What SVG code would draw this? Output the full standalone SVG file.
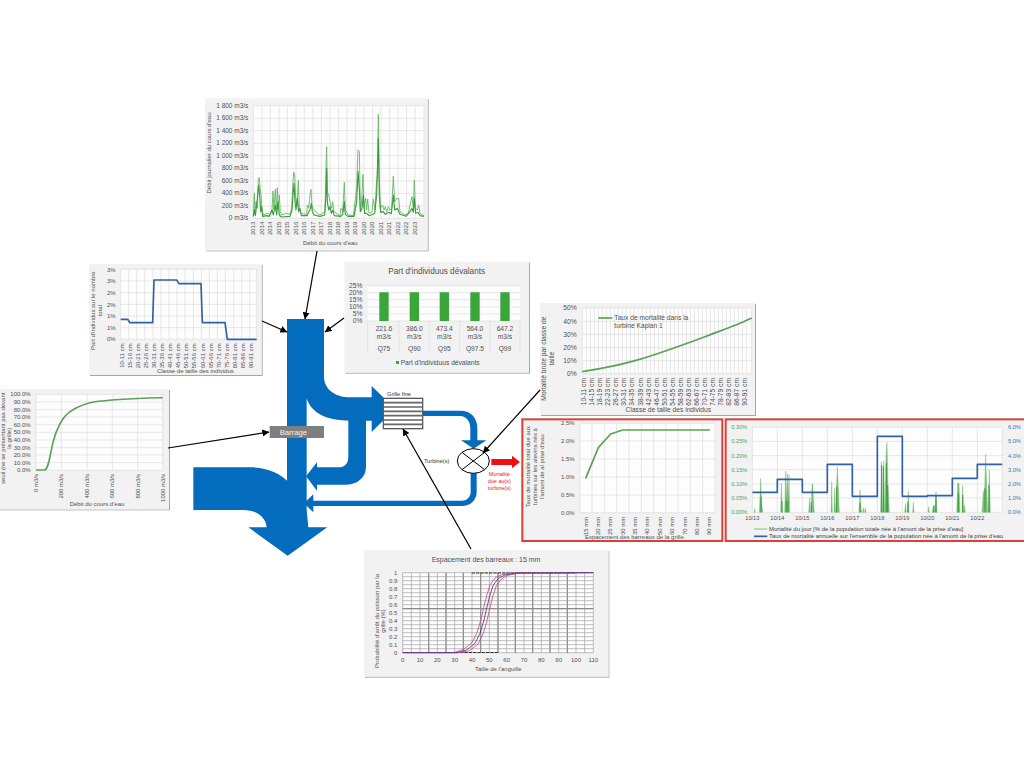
<svg xmlns="http://www.w3.org/2000/svg" width="1024" height="768" viewBox="0 0 1024 768">
<style>
text{font-family:"Liberation Sans",Arial,sans-serif;fill:#505050}
.t{font-size:18px}.t20{font-size:20px}.c{text-anchor:middle}.e{text-anchor:end}
.panel{fill:#f2f2f2;filter:url(#sh)}
.redbox{fill:#f2f2f2;stroke:#d9403a;stroke-width:6}
.plot{fill:#fdfdfd}
.grid{fill:none;stroke:#dcdcdc;stroke-width:2}
.line{fill:none;stroke-linejoin:round}
.g{stroke:#5aa356;stroke-width:5}
.b{stroke:#2f62a8;stroke-width:5}
.flow{fill:#036cbc}
.conn{fill:none;stroke:#000;stroke-width:1.2;marker-end:url(#arr)}
</style>
<defs>
<filter id="sh" x="-5%" y="-5%" width="110%" height="110%"><feDropShadow dx="3" dy="3" stdDeviation="2" flood-color="#000" flood-opacity=".35"/></filter>
<marker id="arr" viewBox="0 0 10 10" refX="9.5" refY="5" markerWidth="7" markerHeight="7" orient="auto" markerUnits="userSpaceOnUse"><path d="M0 0L10 5L0 10z" fill="#000"/></marker>
</defs>
<rect width="1024" height="768" fill="#fff"/>

<g id="sankey" transform="translate(180 310) scale(.33333)">
<path class="flow" d="M321 27H432V200C432 240 470 262 510 262H575V228L645 296L575 366V332H510C450 332 395 315 380 265V600L385 652H442L323 737L205 652H260C258 625 235 600 190 600H40V472H210C260 472 300 490 321 512Z"/>
<path class="flow" d="M558 330V470C558 505 530 524 495 524H411V542L378 499L411 457V472H475C495 472 505 460 505 440V330Z"/>
<path class="flow" d="M400 572H845C860 572 872 562 872 545V485H890V545C890 572 870 588 845 588H400V607L372 580L400 553Z"/>
<path class="flow" d="M728 302H840C875 302 892 325 892 355V391H919L881 416L843 391H871V355C871 335 860 318 840 318H728Z"/>
</g>

<g id="grille" transform="translate(180 310) scale(.33333)">
<rect x="610" y="265" width="118" height="91" fill="#fff" stroke="#5a5a5a" stroke-width="4"/>
<path d="M610 278H728M610 291H728M610 304H728M610 317H728M610 330H728M610 343H728" stroke="#666" stroke-width="5"/>
<text class="c" x="657" y="257" font-size="17" style="fill:#333">Grille fine</text>
</g>

<g id="barrage" transform="translate(180 310) scale(.33333)">
<rect x="269" y="348" width="163" height="36" fill="#7f7f7f"/>
<text class="c" x="340" y="374" font-size="23" style="fill:#f2f2f2">Barrage</text>
</g>

<g id="turbine" transform="translate(180 310) scale(.33333)">
<ellipse cx="880" cy="453" rx="48" ry="37" fill="#fff" stroke="#000" stroke-width="3"/>
<path d="M846 427L914 479M846 479L914 427" stroke="#000" stroke-width="3"/>
<text class="c" x="770" y="460" font-size="17" style="fill:#333">Turbine(s)</text>
</g>

<g id="mortalite" transform="translate(180 310) scale(.33333)">
<path d="M934 447H996V437L1020 456L996 475V465H934Z" fill="#ee1111"/>
<g style="font-size:16.5px"><text class="c" x="958" y="497" style="fill:#e02020">Mortalité</text><text class="c" x="958" y="518" style="fill:#e02020">due au(x)</text><text class="c" x="958" y="539" style="fill:#e02020">turbine(s)</text></g>
</g>

<g id="chart-debit" transform="translate(200 95) scale(.33333)">
<rect class="panel" x="15" y="10" width="668" height="456"/>
<rect class="plot" x="160" y="32" width="512" height="338"/>
<path class="grid" d="M160 32H672M160 70H672M160 107H672M160 145H672M160 182H672M160 220H672M160 258H672M160 295H672M160 333H672M160 370H672M160 32V370M186 32V370M211 32V370M237 32V370M262 32V370M288 32V370M313 32V370M339 32V370M364 32V370M390 32V370M416 32V370M441 32V370M467 32V370M492 32V370M518 32V370M543 32V370M569 32V370M594 32V370M620 32V370M645 32V370M672 32V370"/>
<path class="line" stroke="#62b562" stroke-width="2.6" d="M160 362L163 295 165 350 168 320 172 340 175 250 178 248 180 275 183 300 186 345 190 360 200 355 210 358 216 350 219 288 222 345 226 282 229 350 232 278 235 340 238 300 241 350 245 360 260 355 270 358 275 340 278 275 281 232 284 240 287 310 291 330 295 256 298 340 303 355 320 358 322 330 326 340 330 300 333 283 336 330 340 345 360 360 375 350 378 210 380 155 382 290 386 300 390 320 395 340 398 320 402 350 420 362 423 340 428 350 433 262 436 345 445 360 460 362 470 280 474 165 478 170 481 340 485 320 489 238 492 340 497 310 500 345 503 312 507 355 516 350 520 312 525 345 529 270 532 240 535 58 538 250 541 340 548 330 552 345 556 335 560 350 565 335 570 345 575 340 580 243 584 320 590 310 596 310 600 350 615 360 625 355 632 320 636 305 640 340 643 255 646 340 652 345 656 330 660 355 672 362"/>
<path class="line" stroke="#3a9e3a" stroke-width="3.4" d="M160 364L163 345 166 362 170 330 173 300 176 270 179 300 182 350 185 335 188 364 200 362 208 364 216 345 220 360 226 330 230 360 234 320 238 360 244 366 270 364 276 345 279 300 282 265 285 320 288 345 292 310 296 350 300 340 304 362 322 362 326 350 330 345 334 325 337 350 342 360 360 364 374 360 378 300 380 220 382 320 386 345 390 335 394 355 398 345 403 362 422 364 428 358 433 320 436 358 444 364 462 364 470 320 474 230 478 280 481 350 486 340 490 300 494 355 500 355 507 362 518 358 524 355 530 300 535 130 538 300 542 352 550 350 556 358 566 352 574 356 580 300 584 345 592 340 600 358 618 364 630 350 636 340 640 352 643 310 647 355 654 352 660 362 672 364"/>
<g class="t">
<g style="font-size:19.5px"><text class="e" x="145" y="38">1 800 m3/s</text><text class="e" x="145" y="76">1 600 m3/s</text><text class="e" x="145" y="113">1 400 m3/s</text><text class="e" x="145" y="151">1 200 m3/s</text><text class="e" x="145" y="188">1 000 m3/s</text><text class="e" x="145" y="226">800 m3/s</text><text class="e" x="145" y="264">600 m3/s</text><text class="e" x="145" y="301">400 m3/s</text><text class="e" x="145" y="339">200 m3/s</text><text class="e" x="145" y="376">0 m3/s</text></g>
<text class="e" transform="translate(166 380) rotate(-90)">2013</text><text class="e" transform="translate(191 380) rotate(-90)">2014</text><text class="e" transform="translate(217 380) rotate(-90)">2014</text><text class="e" transform="translate(242 380) rotate(-90)">2015</text><text class="e" transform="translate(268 380) rotate(-90)">2015</text><text class="e" transform="translate(293 380) rotate(-90)">2016</text><text class="e" transform="translate(319 380) rotate(-90)">2016</text><text class="e" transform="translate(344 380) rotate(-90)">2017</text><text class="e" transform="translate(370 380) rotate(-90)">2017</text><text class="e" transform="translate(395 380) rotate(-90)">2018</text><text class="e" transform="translate(421 380) rotate(-90)">2018</text><text class="e" transform="translate(446 380) rotate(-90)">2019</text><text class="e" transform="translate(472 380) rotate(-90)">2019</text><text class="e" transform="translate(497 380) rotate(-90)">2020</text><text class="e" transform="translate(523 380) rotate(-90)">2020</text><text class="e" transform="translate(548 380) rotate(-90)">2021</text><text class="e" transform="translate(574 380) rotate(-90)">2021</text><text class="e" transform="translate(599 380) rotate(-90)">2022</text><text class="e" transform="translate(625 380) rotate(-90)">2022</text><text class="e" transform="translate(650 380) rotate(-90)">2023</text>
<text class="c" x="391" y="451">Débit du cours d'eau</text>
<text class="c" transform="translate(33 174) rotate(-90)">Débit journalier du cours d'eau</text>
</g>
</g>

<g id="chart-part-taille" transform="translate(85 260) scale(.33333)">
<rect class="panel" x="12" y="12" width="518" height="333"/>
<rect class="plot" x="107" y="28" width="408" height="210"/>
<path class="grid" d="M107 28H515M107 63H515M107 98H515M107 133H515M107 168H515M107 203H515M107 238H515M107 28V238M131 28V238M155 28V238M179 28V238M204 28V238M228 28V238M252 28V238M276 28V238M300 28V238M325 28V238M349 28V238M373 28V238M397 28V238M421 28V238M446 28V238M470 28V238M494 28V238M515 28V238"/>
<path class="line b" d="M107 178L128 178 135 188 203 188 207 60 275 60 282 71 348 71 352 188 420 188 427 238 515 238"/>
<g class="t">
<text class="e" x="92" y="35">3%</text><text class="e" x="92" y="70">3%</text><text class="e" x="92" y="105">2%</text><text class="e" x="92" y="140">2%</text><text class="e" x="92" y="175">1%</text><text class="e" x="92" y="210">1%</text><text class="e" x="92" y="244">0%</text>
<text class="e" transform="translate(116 250) rotate(-90)">10-11 cm</text><text class="e" transform="translate(140 250) rotate(-90)">15-16 cm</text><text class="e" transform="translate(165 250) rotate(-90)">20-21 cm</text><text class="e" transform="translate(189 250) rotate(-90)">25-26 cm</text><text class="e" transform="translate(213 250) rotate(-90)">30-31 cm</text><text class="e" transform="translate(237 250) rotate(-90)">35-36 cm</text><text class="e" transform="translate(262 250) rotate(-90)">40-41 cm</text><text class="e" transform="translate(286 250) rotate(-90)">45-46 cm</text><text class="e" transform="translate(310 250) rotate(-90)">50-51 cm</text><text class="e" transform="translate(334 250) rotate(-90)">55-56 cm</text><text class="e" transform="translate(359 250) rotate(-90)">60-61 cm</text><text class="e" transform="translate(383 250) rotate(-90)">65-66 cm</text><text class="e" transform="translate(407 250) rotate(-90)">70-71 cm</text><text class="e" transform="translate(431 250) rotate(-90)">75-76 cm</text><text class="e" transform="translate(456 250) rotate(-90)">80-81 cm</text><text class="e" transform="translate(480 250) rotate(-90)">85-86 cm</text><text class="e" transform="translate(504 250) rotate(-90)">90-91 cm</text>
<text class="c" x="331" y="338">Classe de taille des individus</text>
<text class="c" transform="translate(31 152) rotate(-90)">Part d'individus sur le nombre</text>
<text class="c" transform="translate(52 152) rotate(-90)">total</text>
</g>
</g>

<g id="chart-devalants" transform="translate(85 260) scale(.33333)">
<rect class="panel" x="778" y="5" width="554" height="333"/>
<rect class="plot" x="848" y="77" width="457" height="106"/>
<path class="grid" d="M848 77H1305M848 98H1305M848 119H1305M848 141H1305M848 162H1305M848 183H1305"/>
<path d="M883 97h28v86h-28zM974 97h28v86h-28zM1064 97h28v86h-28zM1156 97h28v86h-28zM1246 97h28v86h-28z" fill="#3aa63a"/>
<path class="grid" d="M848 183V276M942 183V276M1033 183V276M1124 183V276M1215 183V276M1305 183V276"/>
<g style="font-size:20px">
<text class="c" x="1055" y="43" style="font-size:24.5px">Part d'individuus dévalants</text>
<text class="e" x="832" y="84">25%</text><text class="e" x="832" y="105">20%</text><text class="e" x="832" y="126">15%</text><text class="e" x="832" y="147">10%</text><text class="e" x="832" y="168">5%</text><text class="e" x="832" y="190">0%</text>
<text class="c" x="897" y="212">221.6</text><text class="c" x="897" y="236">m3/s</text><text class="c" x="897" y="272">Q75</text>
<text class="c" x="988" y="212">386.0</text><text class="c" x="988" y="236">m3/s</text><text class="c" x="988" y="272">Q90</text>
<text class="c" x="1078" y="212">473.4</text><text class="c" x="1078" y="236">m3/s</text><text class="c" x="1078" y="272">Q95</text>
<text class="c" x="1170" y="212">564.0</text><text class="c" x="1170" y="236">m3/s</text><text class="c" x="1170" y="272">Q97.5</text>
<text class="c" x="1260" y="212">647.2</text><text class="c" x="1260" y="236">m3/s</text><text class="c" x="1260" y="272">Q99</text>
<rect x="933" y="303" width="9" height="9" fill="#3aa63a"/>
<text x="947" y="314">Part d'individuus dévalants</text>
</g>
</g>

<g id="chart-seuil" transform="translate(0 380) scale(.33333)">
<rect class="panel" x="-10" y="27" width="517" height="361"/>
<rect class="plot" x="108" y="43" width="380" height="228"/>
<path class="grid" d="M108 43H488M108 66H488M108 89H488M108 111H488M108 134H488M108 157H488M108 180H488M108 203H488M108 225H488M108 248H488M108 271H488M108 43V271M184 43V271M261 43V271M337 43V271M413 43V271M488 43V271"/>
<path class="line g" d="M108 270L134 270C142 268 146 250 152 220C160 175 172 140 190 115C210 88 240 75 280 66C340 57 420 55 488 53"/>
<g class="t">
<text class="e" x="92" y="49">100.0%</text><text class="e" x="92" y="72">90.0%</text><text class="e" x="92" y="95">80.0%</text><text class="e" x="92" y="117">70.0%</text><text class="e" x="92" y="140">60.0%</text><text class="e" x="92" y="163">50.0%</text><text class="e" x="92" y="186">40.0%</text><text class="e" x="92" y="209">30.0%</text><text class="e" x="92" y="231">20.0%</text><text class="e" x="92" y="254">10.0%</text><text class="e" x="92" y="277">0.0%</text>
<text class="e" transform="translate(114 282) rotate(-90)">0 m3/s</text><text class="e" transform="translate(190 282) rotate(-90)">200 m3/s</text><text class="e" transform="translate(267 282) rotate(-90)">400 m3/s</text><text class="e" transform="translate(343 282) rotate(-90)">600 m3/s</text><text class="e" transform="translate(419 282) rotate(-90)">800 m3/s</text><text class="e" transform="translate(494 282) rotate(-90)">1000 m3/s</text>
<text class="c" x="291" y="379">Débit du cours d'eau</text>
<text class="c" transform="translate(14 175) rotate(-90)">seuil (ne se présentant pas devant</text>
<text class="c" transform="translate(34 175) rotate(-90)">la grille)</text>
</g>
</g>

<g id="chart-kaplan" transform="translate(535 298) scale(.33333)">
<rect class="panel" x="15" y="15" width="645" height="336"/>
<rect class="plot" x="142" y="30" width="508" height="197"/>
<path class="grid" d="M142 30H650M142 70H650M142 109H650M142 149H650M142 188H650M142 227H650M142 30V227M154 30V227M166 30V227M178 30V227M190 30V227M202 30V227M214 30V227M226 30V227M238 30V227M250 30V227M262 30V227M274 30V227M286 30V227M298 30V227M310 30V227M322 30V227M334 30V227M346 30V227M358 30V227M370 30V227M382 30V227M394 30V227M406 30V227M418 30V227M430 30V227M442 30V227M454 30V227M466 30V227M478 30V227M490 30V227M502 30V227M514 30V227M526 30V227M538 30V227M550 30V227M562 30V227M574 30V227M586 30V227M598 30V227M610 30V227M622 30V227M634 30V227M650 30V227"/>
<path class="line g" d="M142 221C200 212 250 202 300 188C370 168 440 142 510 116C560 97 610 80 650 60"/>
<path class="line g" d="M190 60H232"/>
<g class="t20">
<text x="238" y="66">Taux de mortalité dans la</text><text x="238" y="90">turbine Kaplan 1</text>
<text class="e" x="125" y="37">50%</text><text class="e" x="125" y="77">40%</text><text class="e" x="125" y="116">30%</text><text class="e" x="125" y="155">20%</text><text class="e" x="125" y="195">10%</text><text class="e" x="125" y="234">0%</text>
<text class="e" transform="translate(154 240) rotate(-90)">10-11 cm</text><text class="e" transform="translate(178 240) rotate(-90)">14-15 cm</text><text class="e" transform="translate(202 240) rotate(-90)">18-19 cm</text><text class="e" transform="translate(226 240) rotate(-90)">22-23 cm</text><text class="e" transform="translate(250 240) rotate(-90)">26-27 cm</text><text class="e" transform="translate(274 240) rotate(-90)">30-31 cm</text><text class="e" transform="translate(298 240) rotate(-90)">34-35 cm</text><text class="e" transform="translate(323 240) rotate(-90)">38-39 cm</text><text class="e" transform="translate(347 240) rotate(-90)">42-43 cm</text><text class="e" transform="translate(371 240) rotate(-90)">46-47 cm</text><text class="e" transform="translate(395 240) rotate(-90)">50-51 cm</text><text class="e" transform="translate(419 240) rotate(-90)">54-55 cm</text><text class="e" transform="translate(443 240) rotate(-90)">58-59 cm</text><text class="e" transform="translate(467 240) rotate(-90)">62-63 cm</text><text class="e" transform="translate(491 240) rotate(-90)">66-67 cm</text><text class="e" transform="translate(515 240) rotate(-90)">70-71 cm</text><text class="e" transform="translate(540 240) rotate(-90)">74-75 cm</text><text class="e" transform="translate(564 240) rotate(-90)">78-79 cm</text><text class="e" transform="translate(588 240) rotate(-90)">82-83 cm</text><text class="e" transform="translate(612 240) rotate(-90)">86-87 cm</text><text class="e" transform="translate(636 240) rotate(-90)">90-91 cm</text>
<text class="c" x="400" y="343">Classe de taille des individus</text>
<text class="c" transform="translate(34 182) rotate(-90)">Mortalité brute par classe de</text>
<text class="c" transform="translate(56 182) rotate(-90)">taille</text>
</g>
</g>

<g id="chart-espacement" transform="translate(520 415) scale(.33333)">
<rect class="redbox" x="7" y="13" width="600" height="365"/>
<rect class="plot" x="180" y="25" width="405" height="268"/>
<path class="grid" d="M180 25H585M180 78H585M180 132H585M180 186H585M180 240H585M180 293H585M180 25V293M216 25V293M253 25V293M290 25V293M327 25V293M364 25V293M401 25V293M437 25V293M474 25V293M511 25V293M548 25V293M585 25V293"/>
<path class="line g" d="M197 190L235 98 272 57 308 45H570"/>
<g class="t">
<text class="e" x="164" y="31">2.5%</text><text class="e" x="164" y="84">2.0%</text><text class="e" x="164" y="138">1.5%</text><text class="e" x="164" y="192">1.0%</text><text class="e" x="164" y="246">0.5%</text><text class="e" x="164" y="299">0.0%</text>
<text class="e" transform="translate(203 305) rotate(-90)">15 mm</text><text class="e" transform="translate(240 305) rotate(-90)">20 mm</text><text class="e" transform="translate(277 305) rotate(-90)">25 mm</text><text class="e" transform="translate(314 305) rotate(-90)">30 mm</text><text class="e" transform="translate(351 305) rotate(-90)">35 mm</text><text class="e" transform="translate(388 305) rotate(-90)">40 mm</text><text class="e" transform="translate(425 305) rotate(-90)">50 mm</text><text class="e" transform="translate(462 305) rotate(-90)">60 mm</text><text class="e" transform="translate(500 305) rotate(-90)">70 mm</text><text class="e" transform="translate(537 305) rotate(-90)">80 mm</text><text class="e" transform="translate(574 305) rotate(-90)">90 mm</text>
<text class="c" x="343" y="372">Espacement des barreaux de la grille</text>
<text class="c" transform="translate(31 155) rotate(-90)">Taux de mortalité total due aux</text>
<text class="c" transform="translate(52 155) rotate(-90)">turbines sur les alevins nés à</text>
<text class="c" transform="translate(73 155) rotate(-90)">l'amont de al prise d'eau</text>
</g>
</g>

<g id="chart-mortalite-jour" transform="translate(724 415) scale(.33333)">
<rect class="redbox" x="5" y="13" width="900" height="365"/>
<rect class="plot" x="85" y="37" width="750" height="255"/>
<path class="grid" d="M85 37H835M85 79H835M85 122H835M85 164H835M85 207H835M85 249H835M85 292H835M85 37V292M160 37V292M235 37V292M310 37V292M385 37V292M460 37V292M535 37V292M610 37V292M685 37V292M760 37V292M835 37V292"/>
<path fill="#7cc27c" stroke="#5cb05c" stroke-width="1" d="M91 292L92 280 94 292ZM106 292L108 245 110 190 112 245 114 272 116 292ZM170 292L172 205 175 292ZM182 292L185 168 188 258 190 175 193 258 195 178 197 292ZM254 292L257 248 259 292ZM261 292L264 210 266 205 269 265 271 292ZM321 292L323 200 325 292ZM330 292L332 220 334 292ZM335 292L338 205 340 155 343 220 346 292ZM405 292L408 225 411 280 413 292ZM416 292L418 278 420 292ZM422 292L424 278 426 292ZM470 292L472 140 475 292ZM477 292L479 138 482 292ZM483 292L486 120 489 82 492 210 496 292ZM542 292L545 265 547 292ZM550 292L553 228 555 292ZM566 292L568 262 570 292ZM612 292L614 275 616 292ZM625 292L628 270 631 292ZM632 292L636 230 639 292ZM698 292L701 205 705 205 708 292ZM714 292L716 212 719 292ZM720 292L722 270 724 292ZM774 292L778 232 782 222 785 118 788 215 791 292ZM793 292L796 165 799 292Z"/>
<path class="line" stroke="#3a9a3a" stroke-width="3" d="M111 292V245M174 292V258M187 292V258M192 292V258M262 292V262M338 292V215M408 292V265M473 292V150M478 292V155M487 292V145M491 292V210M552 292V260M630 292V272M636 292V240M703 292V235M716 292V240M783 292V220M795 292V210"/>
<path class="line b" d="M85 232H160V193H235V232H310V148H385V244H460V64H535V244H610V242H685V190H760V148H835"/>
<g style="font-size:17px">
<g><text class="e" x="70" y="43" style="fill:#4ea24e">0.30%</text><text class="e" x="70" y="85" style="fill:#4ea24e">0.25%</text><text class="e" x="70" y="128" style="fill:#4ea24e">0.20%</text><text class="e" x="70" y="170" style="fill:#4ea24e">0.15%</text><text class="e" x="70" y="213" style="fill:#4ea24e">0.10%</text><text class="e" x="70" y="255" style="fill:#4ea24e">0.05%</text><text class="e" x="70" y="298" style="fill:#4ea24e">0.00%</text></g>
<g><text x="852" y="43" style="fill:#2f78b5">6.0%</text><text x="852" y="85" style="fill:#2f78b5">5.0%</text><text x="852" y="128" style="fill:#2f78b5">4.0%</text><text x="852" y="170" style="fill:#2f78b5">3.0%</text><text x="852" y="213" style="fill:#2f78b5">2.0%</text><text x="852" y="255" style="fill:#2f78b5">1.0%</text><text x="852" y="298" style="fill:#2f78b5">0.0%</text></g>
<text class="c" x="85" y="316">10/13</text><text class="c" x="160" y="316">10/14</text><text class="c" x="235" y="316">10/15</text><text class="c" x="310" y="316">10/16</text><text class="c" x="385" y="316">10/17</text><text class="c" x="460" y="316">10/18</text><text class="c" x="535" y="316">10/19</text><text class="c" x="610" y="316">10/20</text><text class="c" x="685" y="316">10/21</text><text class="c" x="760" y="316">10/22</text>
<text x="135" y="348" style="fill:#404040;font-size:17.8px">Mortalité du jour [% de la population totale née à l'amont de la prise d'eau]</text>
<text x="135" y="370" style="fill:#404040;font-size:17.8px">Taux de mortalité annuelle sur l'ensemble de la population née à l'amont de la prise d'eau</text>
</g>
<path class="line" stroke="#9ccf9c" stroke-width="4" d="M90 342H130"/>
<path class="line b" d="M90 364H130"/>
</g>

<g id="chart-arret" transform="translate(360 545) scale(.33333)">
<rect class="panel" x="12" y="15" width="733" height="380"/>
<rect class="plot" x="128" y="83" width="572" height="240"/>
<path fill="none" stroke="#a0a0a0" stroke-width="2" d="M128 83H700M128 107H700M128 131H700M128 155H700M128 179H700M128 203H700M128 227H700M128 251H700M128 275H700M128 299H700M128 323H700M128 83V323M154 83V323M180 83V323M206 83V323M232 83V323M258 83V323M284 83V323M310 83V323M336 83V323M362 83V323M388 83V323M414 83V323M440 83V323M466 83V323M492 83V323M518 83V323M544 83V323M570 83V323M596 83V323M622 83V323M648 83V323M674 83V323M700 83V323M128 95H700M128 119H700M128 143H700M128 167H700M128 191H700M128 215H700M128 239H700M128 263H700M128 287H700M128 311H700"/>
<path fill="none" stroke="#8c8c8c" stroke-width="3.5" d="M206 83V323M258 83V323M310 83V323M362 83V323M414 83V323M466 83V323M518 83V323M570 83V323M622 83V323M128 191H700"/>
<path d="M335 84H645M235 322.5H415" stroke="#333" stroke-width="3.5" stroke-dasharray="10 3" fill="none"/>
<path class="line" stroke="#d9476f" stroke-width="2.5" d="M128 323H281L311 313 336 293 351 263 363 223 371 188 381 148 391 118 406 98 426 89 461 84 700 83"/>
<path class="line" stroke="#d9476f" stroke-width="2.5" d="M128 323H299L329 317 354 297 369 267 381 227 389 192 399 152 409 122 424 102 444 91 479 84 700 83"/>
<path class="line" stroke="#3a3a9a" stroke-width="2.5" d="M128 323H290L320 315 345 295 360 265 372 225 380 190 390 150 400 120 415 100 435 90 470 84 700 83"/>
<g class="t">
<text class="c" x="378" y="50" style="font-size:21px">Espacement des barreaux : 15 mm</text>
<text class="e" x="112" y="89">1</text><text class="e" x="112" y="113">0.9</text><text class="e" x="112" y="137">0.8</text><text class="e" x="112" y="161">0.7</text><text class="e" x="112" y="185">0.6</text><text class="e" x="112" y="209">0.5</text><text class="e" x="112" y="233">0.4</text><text class="e" x="112" y="257">0.3</text><text class="e" x="112" y="281">0.2</text><text class="e" x="112" y="305">0.1</text><text class="e" x="112" y="329">0</text>
<text class="c" x="128" y="350">0</text><text class="c" x="180" y="350">10</text><text class="c" x="232" y="350">20</text><text class="c" x="284" y="350">30</text><text class="c" x="336" y="350">40</text><text class="c" x="388" y="350">50</text><text class="c" x="440" y="350">60</text><text class="c" x="492" y="350">70</text><text class="c" x="544" y="350">80</text><text class="c" x="596" y="350">90</text><text class="c" x="648" y="350">100</text><text class="c" x="700" y="350">110</text>
<text class="c" x="415" y="378">Taille de l'anguille</text>
<text class="c" transform="translate(57 228) rotate(-90)">Probabilité d'arrêt du poisson par la</text>
<text class="c" transform="translate(76 228) rotate(-90)">grille (%)</text>
</g>
</g>

<g id="connectors">
<path class="conn" d="M317 251L305 319"/>
<path class="conn" d="M262 321L287 332"/>
<path class="conn" d="M344 318L325 332"/>
<path class="conn" d="M168 448L269 432"/>
<path class="conn" d="M540 390L483 453"/>
<path class="conn" d="M471 549L403 429"/>
</g>
</svg>
